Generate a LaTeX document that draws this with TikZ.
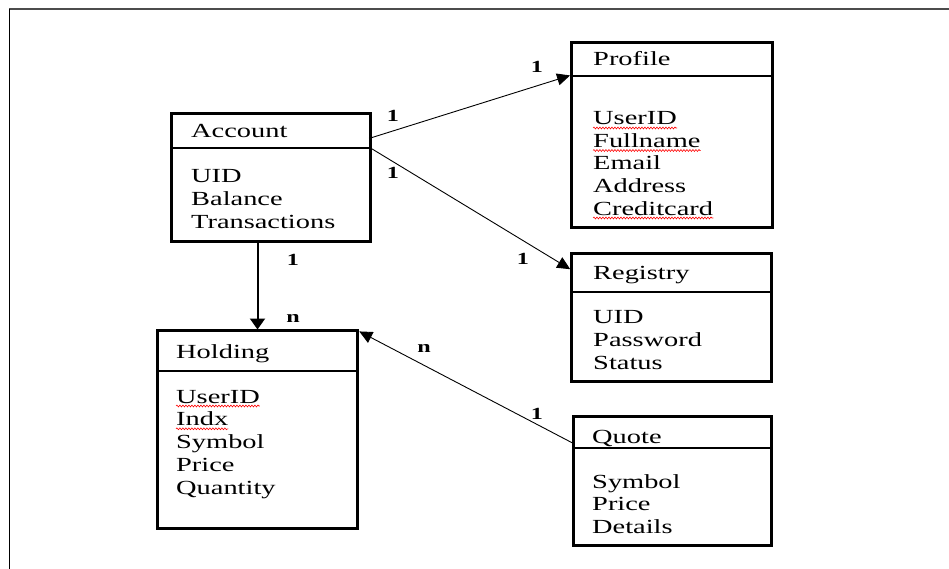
\documentclass[tikz,border=0pt]{standalone}
\usepackage{fontspec}
\setmainfont{Liberation Serif}[FakeStretch=1.42]
\usetikzlibrary{arrows.meta,decorations.pathmorphing}

\tikzset{
  classbox/.style={draw, line width=3.5pt, inner sep=0pt, outer sep=0pt},
  divider/.style={line width=2.5pt},
  entry/.style={inner sep=0pt, anchor=base west, font=\fontsize{20}{23}\selectfont},
  mult/.style={inner sep=0pt, font=\bfseries\fontsize{17}{17}\selectfont},
  link/.style={line width=0.9pt, -{Triangle[length=13pt,width=12pt]}},
  typo/.style={draw=red, line width=0.6pt, decorate,
    decoration={snake, amplitude=0.9pt, segment length=3pt}},
}

\begin{document}
\begin{tikzpicture}[x=1pt,y=-1pt]
\useasboundingbox (0,0) rectangle (949,569);

% page frame
\draw[line width=2pt, black!70] (9,9) -- (949,9);
\draw[line width=1pt] (9.5,9) -- (9.5,569);

% ---------- Account ----------
\node[classbox, minimum width=199pt, minimum height=128pt] (acct) at (271,177.5) {};
\draw[divider] (171.5,148) -- (370.5,148);
\node[entry] (acct-t) at (191,138) {Account};
\foreach \t [count=\i] in {UID,Balance,Transactions}
  \node[entry] (acct-f\i) at (191,{183+(\i-1)*23}) {\t};

% ---------- Profile ----------
\node[classbox, minimum width=201pt, minimum height=185pt] (prof) at (672,135) {};
\draw[divider] (571.5,76) -- (772.5,76);
\node[entry] (prof-t) at (593,66) {Profile};
\foreach \t [count=\i] in {UserID,Fullname,Email,Address,Creditcard}
  \node[entry] (prof-f\i) at (593,{125+(\i-1)*22.5}) {\t};

% ---------- Registry ----------
\node[classbox, minimum width=200pt, minimum height=128pt] (reg) at (671.5,317.5) {};
\draw[divider] (571.5,292) -- (771.5,292);
\node[entry] (reg-t) at (593,279) {Registry};
\foreach \t [count=\i] in {UID,Password,Status}
  \node[entry] (reg-f\i) at (593,{323+(\i-1)*23}) {\t};

% ---------- Holding ----------
\node[classbox, minimum width=200pt, minimum height=198pt] (hold) at (257.5,429.5) {};
\draw[divider] (157.5,371) -- (357.5,371);
\node[entry] (hold-t) at (176,358) {Holding};
\foreach \t [count=\i] in {UserID,Indx,Symbol,Price,Quantity}
  \node[entry] (hold-f\i) at (176,{403+(\i-1)*22.8}) {\t};

% ---------- Quote ----------
\node[classbox, minimum width=198pt, minimum height=129pt] (quote) at (672.5,481) {};
\draw[divider] (573.5,448) -- (771.5,448);
\node[entry] (quote-t) at (592,443) {Quote};
\foreach \t [count=\i] in {Symbol,Price,Details}
  \node[entry] (quote-f\i) at (592,{488+(\i-1)*22.5}) {\t};

% spell-check underlines
\foreach \n in {prof-f1,prof-f2,prof-f5,hold-f1,hold-f2}
  \draw[typo] ([yshift=-3pt]\n.base west) -- ([yshift=-3pt]\n.base east);

% ---------- associations ----------
\draw[link, shorten <=-1.5pt, shorten >=1.5pt]
  ([yshift=-24.5pt]acct.north east) -- ([yshift=-32.5pt]prof.north west);
\draw[link, shorten <=-1.5pt, shorten >=1.5pt]
  ([yshift=-34.5pt]acct.north east) -- ([yshift=-16.5pt]reg.north west);
\draw[line width=2pt, -{Triangle[length=11pt,width=15pt]}, shorten >=1pt]
  (hold.north |- acct.south) -- (hold.north);
\draw[link, shorten <=-1.5pt, shorten >=2pt]
  ([yshift=-27pt]quote.north west) -- (hold.north east);

% multiplicities
\node[mult] (m1) at (393,116) {1};
\node[mult] (m2) at (537,67) {1};
\node[mult] (m3) at (393,173) {1};
\node[mult] (m4) at (523,259) {1};
\node[mult] (m5) at (293,260) {1};
\node[mult] (m6) at (293,318) {n};
\node[mult] (m7) at (424,348) {n};
\node[mult] (m8) at (537,414) {1};
\end{tikzpicture}
\end{document}
